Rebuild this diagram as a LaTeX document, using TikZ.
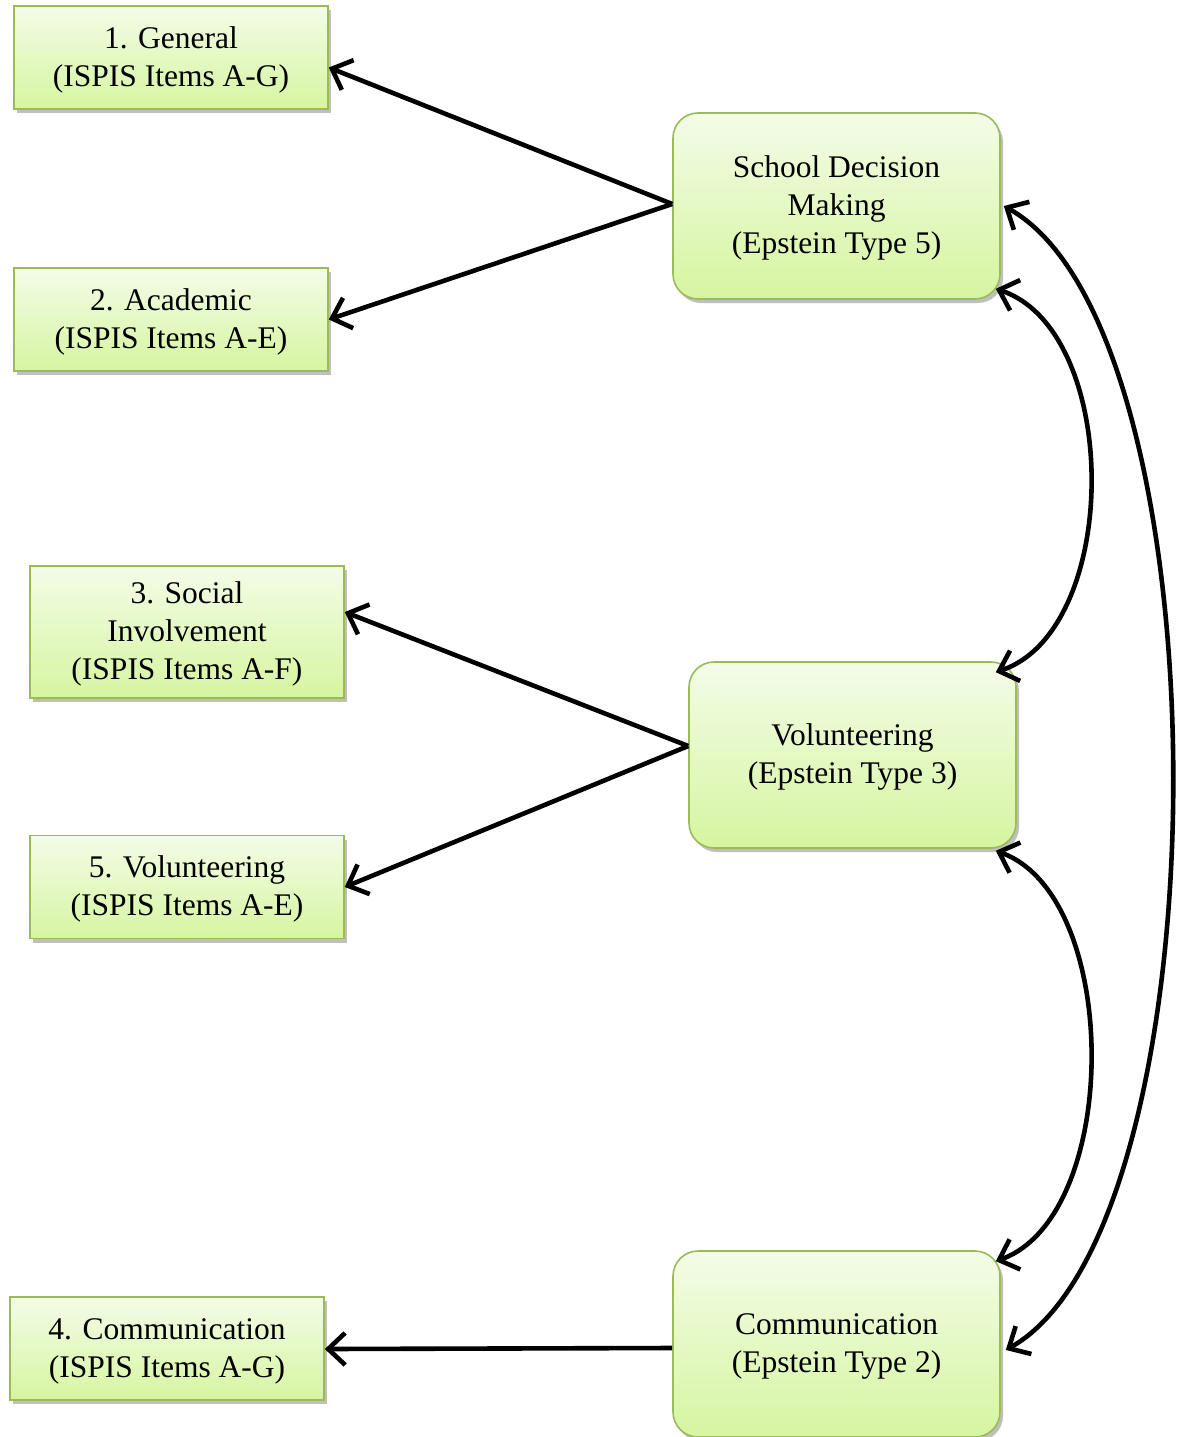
\documentclass[tikz,border=0pt]{standalone}
\usepackage{fontspec}
\setmainfont{Liberation Serif}
\usetikzlibrary{arrows.meta,shadows}
\definecolor{boxtop}{RGB}{243,252,232}
\definecolor{boxbottom}{RGB}{214,245,160}
\definecolor{boxline}{RGB}{155,187,89}
\tikzset{
  item/.style={draw=boxline, line width=1.6pt, top color=boxtop, bottom color=boxbottom,
    minimum width=314pt, minimum height=103pt, align=center,
    font=\fontsize{31.5}{38}\selectfont,
    drop shadow={shadow xshift=3pt, shadow yshift=-4pt, fill=black!25, opacity=1}},
  factor/.style={item, rounded corners=25pt, minimum width=327pt, minimum height=186pt},
  link/.style={line width=4.6pt, -{Straight Barb[length=17pt,width=32pt]}},
  corr/.style={line width=4.6pt, {Straight Barb[length=17pt,width=32pt]}-{Straight Barb[length=17pt,width=32pt]}}
}
\begin{document}
\begin{tikzpicture}[x=1pt,y=-1pt]
  \useasboundingbox[fill=white] (0,0) rectangle (1176,1437);
  % items (left)
  \node[item] (gen) at (171,57.5) {\strut 1. General\\(ISPIS Items A-G)};
  \node[item] (acad) at (171,319.5) {\strut 2. Academic\\(ISPIS Items A-E)};
  \node[item, minimum height=132pt] (soc) at (187,632) {\strut 3. Social\\Involvement\\(ISPIS Items A-F)};
  \node[item] (vol5) at (187,887) {\strut 5. Volunteering\\(ISPIS Items A-E)};
  \node[item] (comm4) at (167,1348.5) {\strut 4. Communication\\(ISPIS Items A-G)};
  % Epstein types (right)
  \node[factor] (sdm) at (836.5,206) {\strut School Decision\\Making\\(Epstein Type 5)};
  \node[factor] (vol) at (852.5,755) {\strut Volunteering\\(Epstein Type 3)};
  \node[factor] (comm) at (836.5,1344) {\strut Communication\\(Epstein Type 2)};
  % loadings
  \draw[link] ([yshift=2pt]sdm.west) -- ([yshift=-10pt]gen.east);
  \draw[link] ([yshift=2pt]sdm.west) -- (acad.east);
  \draw[link] ([yshift=9pt]vol.west) -- ([yshift=20pt]soc.east);
  \draw[link] ([yshift=9pt]vol.west) -- (vol5.east);
  \draw[link] ([yshift=-4pt]comm.west) -- ([yshift=-0.5pt]comm4.east);
  % correlations
  \draw[corr] ([shift={(-5pt,11pt)}]sdm.south east) .. controls +(126,42) and +(126,-42) .. ([shift={(-21pt,-11pt)}]vol.north east);
  \draw[corr] ([shift={(-21pt,-2pt)}]vol.south east) .. controls +(126,45) and +(126,-45) .. ([shift={(-5pt,-11pt)}]comm.north east);
  \draw[corr] ([xshift=3pt]sdm.east) .. controls +(224,124) and +(222,-125) .. ([shift={(5pt,-6pt)}]comm.east);
\end{tikzpicture}
\end{document}
